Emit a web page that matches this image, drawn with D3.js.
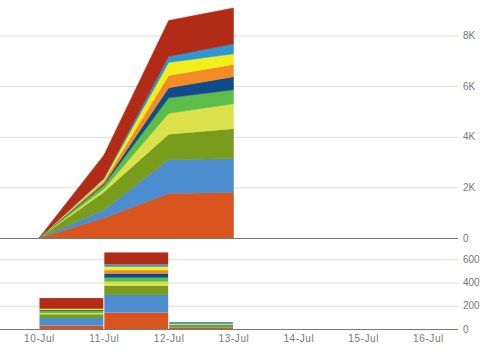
<!DOCTYPE html>
<html>
<head>
<meta charset="utf-8">
<script src="https://cdn.jsdelivr.net/npm/d3@7"></script>
<style>
  html, body { margin: 0; padding: 0; background: #fff; }
  svg { display: block; }
  text { font-family: "Liberation Sans", Arial, sans-serif; fill: #777; }
</style>
</head>
<body>
<svg id="chart" width="488" height="359"></svg>
<script>
// ---- Data ----
const areaDates = ["2014-07-10", "2014-07-11", "2014-07-12", "2014-07-13"];
const barDates = ["2014-07-10", "2014-07-11", "2014-07-12"];
const axisDates = ["2014-07-10", "2014-07-11", "2014-07-12", "2014-07-13", "2014-07-14", "2014-07-15", "2014-07-16"];
const seriesNames = ["s1", "s2", "s3", "s4", "s5", "s6", "s7", "s8", "s9", "s10"];
const seriesColors = ["#d9541f", "#4b8dcf", "#789c1b", "#dbe14a", "#5cbd4a", "#104b8c", "#f58b24", "#f2ee1c", "#2d96d4", "#b22b17"];

// area values per series (one value per areaDates entry)
const areaS1 = [0, 788, 1762, 1800];
const areaS2 = [0, 315, 1332, 1340];
const areaS3 = [0, 710, 1005, 1180];
const areaS4 = [0, 118, 827, 985];
const areaS5 = [0, 158, 611, 552];
const areaS6 = [0, 59, 394, 513];
const areaS7 = [0, 98, 493, 484];
const areaS8 = [0, 79, 512, 422];
const areaS9 = [0, 40, 237, 394];
const areaS10 = [0, 906, 1418, 1419];

// bar values per series (one value per barDates entry)
const barS1 = [29, 141, 10];
const barS2 = [66, 152, 6];
const barS3 = [32, 80, 22];
const barS4 = [11, 34, 6];
const barS5 = [17, 34, 4];
const barS6 = [8, 37, 4];
const barS7 = [0, 29, 0];
const barS8 = [11, 29, 0];
const barS9 = [0, 20, 8];
const barS10 = [92, 103, 0];

const topTicks = [0, 2000, 4000, 6000, 8000];
const bottomTicks = [0, 200, 400, 600];

// ---- Build tables ----
const parse = d3.timeParse("%Y-%m-%d");
const areaSeries = [areaS1, areaS2, areaS3, areaS4, areaS5, areaS6, areaS7, areaS8, areaS9, areaS10];
const barSeries = [barS1, barS2, barS3, barS4, barS5, barS6, barS7, barS8, barS9, barS10];
const areaTable = areaDates.map((d, i) => {
  const row = { date: parse(d) };
  seriesNames.forEach((n, k) => row[n] = areaSeries[k][i]);
  return row;
});
const barTable = barDates.map((d, i) => {
  const row = { date: parse(d) };
  seriesNames.forEach((n, k) => row[n] = barSeries[k][i]);
  return row;
});

// ---- Layout ----
const svg = d3.select("#chart");
const plotLeft = 0, plotRight = 458;
const topPanel = { y0: 238, y8k: 35.5 };
const botPanel = { y0: 329, y600: 259.3 };

const x = d3.scaleTime()
  .domain([parse(axisDates[0]), parse(axisDates[axisDates.length - 1])])
  .range([39, 428]);

const yTop = d3.scaleLinear().domain([0, 8000]).range([topPanel.y0, topPanel.y8k]);
const yBot = d3.scaleLinear().domain([0, 600]).range([botPanel.y0, botPanel.y600]);

const color = d3.scaleOrdinal().domain(seriesNames).range(seriesColors);
const stack = d3.stack().keys(seriesNames);

// ---- Top gridlines ----
const gTop = svg.append("g");
gTop.selectAll("line.grid").data(topTicks.filter(t => t > 0)).join("line")
  .attr("x1", plotLeft).attr("x2", plotRight)
  .attr("y1", d => yTop(d) + 0.5).attr("y2", d => yTop(d) + 0.5)
  .attr("stroke", "#dcdcdc").attr("stroke-width", 1);

// stacked area
const area = d3.area()
  .x(d => x(d.data.date))
  .y0(d => yTop(d[0]))
  .y1(d => yTop(d[1]));
gTop.selectAll("path.layer").data(stack(areaTable)).join("path")
  .attr("d", area)
  .attr("fill", d => color(d.key))
  .attr("stroke", d => color(d.key))
  .attr("stroke-width", 0.5);

gTop.append("line")
  .attr("x1", plotLeft).attr("x2", plotRight)
  .attr("y1", topPanel.y0 + 0.5).attr("y2", topPanel.y0 + 0.5)
  .attr("stroke", "#777").attr("stroke-width", 1);

// top axis labels (right)
const topAxis = d3.axisRight(yTop).tickValues(topTicks)
  .tickFormat(d => d === 0 ? "0" : (d / 1000) + "K")
  .tickSize(0).tickPadding(0);
svg.append("g").attr("transform", `translate(${plotRight + 5},0)`).call(topAxis)
  .call(g => g.select(".domain").remove())
  .call(g => g.selectAll("text").attr("font-size", 10).attr("fill", "#777")
    .attr("font-family", "Liberation Sans, Arial, sans-serif"));

// ---- Bottom chart ----
const gBot = svg.append("g");
gBot.selectAll("line.grid").data(bottomTicks.filter(t => t > 0)).join("line")
  .attr("x1", plotLeft).attr("x2", plotRight)
  .attr("y1", d => yBot(d) + 0.5).attr("y2", d => yBot(d) + 0.5)
  .attr("stroke", "#dcdcdc").attr("stroke-width", 1);

const dayAfter = d => d3.timeDay.offset(d, 1);
gBot.selectAll("g.layer").data(stack(barTable)).join("g")
  .attr("fill", d => color(d.key))
  .selectAll("rect").data(d => d).join("rect")
  .attr("x", d => x(d.data.date) + 0.5)
  .attr("width", d => x(dayAfter(d.data.date)) - x(d.data.date) - 1)
  .attr("y", d => yBot(d[1]))
  .attr("height", d => yBot(d[0]) - yBot(d[1]));

gBot.append("line")
  .attr("x1", plotLeft).attr("x2", plotRight)
  .attr("y1", botPanel.y0 + 0.5).attr("y2", botPanel.y0 + 0.5)
  .attr("stroke", "#777").attr("stroke-width", 1);

const botAxis = d3.axisRight(yBot).tickValues(bottomTicks)
  .tickSize(0).tickPadding(0);
svg.append("g").attr("transform", `translate(${plotRight + 5},0)`).call(botAxis)
  .call(g => g.select(".domain").remove())
  .call(g => g.selectAll("text").attr("font-size", 10).attr("fill", "#777")
    .attr("font-family", "Liberation Sans, Arial, sans-serif"));

// x axis labels
const xAxis = d3.axisBottom(x).tickValues(axisDates.map(parse))
  .tickFormat(d3.timeFormat("%d-%b")).tickSize(0).tickPadding(0);
svg.append("g").attr("transform", `translate(0,${botPanel.y0 + 6})`).call(xAxis)
  .call(g => g.select(".domain").remove())
  .call(g => g.selectAll("text").attr("font-size", 10).attr("fill", "#777")
    .attr("letter-spacing", "0.6px")
    .attr("font-family", "Liberation Sans, Arial, sans-serif"));
</script>
</body>
</html>
